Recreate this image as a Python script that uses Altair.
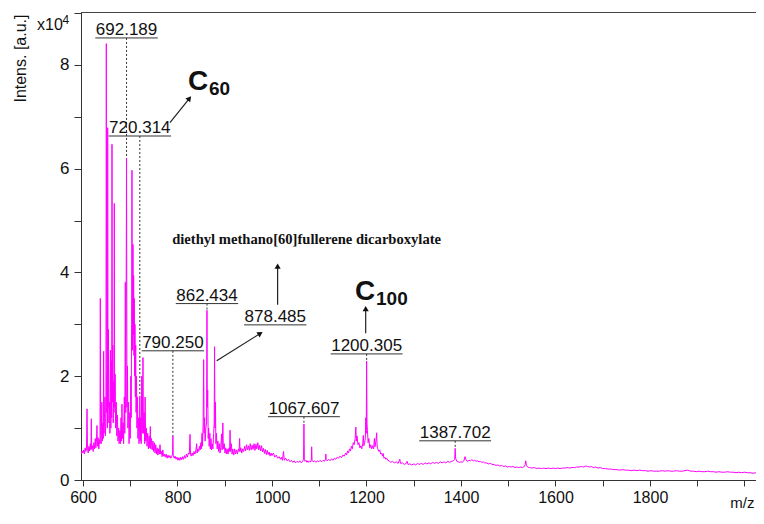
import math
import altair as alt
import pandas as pd

# ---------------- data (m/z, intensity in units of 1e4) ----------------
SPECTRUM = [
    (596, 0.50), (598, 0.56), (600, 0.52), (601.5, 0.58), (603, 0.50), (604.5, 0.62), (606, 0.55),
    (607.5, 0.60), (608.5, 1.37), (609.5, 0.62), (611, 0.52), (612.5, 0.65), (614, 0.56), (615.5, 0.70),
    (616.8, 0.58), (617.6, 1.18), (618.4, 0.60), (620, 0.66), (621.5, 0.55), (623, 0.72), (624.5, 0.60),
    (626, 0.80), (627.2, 0.62), (628.5, 0.75), (629.6, 1.05), (630.5, 0.65), (632, 0.82), (633.5, 0.60),
    (635, 0.78), (636, 0.70), (636.7, 3.50), (637.5, 0.85), (638.5, 0.70), (639.8, 1.50), (640.8, 0.75),
    (642, 1.10), (643, 0.80), (643.7, 2.48), (644.5, 0.90), (645.5, 1.20), (646.5, 1.60), (647.3, 0.85),
    (648.5, 1.10), (649.4, 8.41), (650.3, 1.30), (651.2, 2.10), (651.8, 1.00), (652.3, 6.79), (653, 1.40),
    (654, 2.90), (654.8, 1.10), (656, 1.50), (657, 0.90), (658.2, 2.50), (659, 1.00), (660, 2.30),
    (660.7, 1.20), (661.4, 6.47), (662.2, 1.50), (663.2, 2.60), (664, 1.10), (665, 1.90), (665.6, 1.30),
    (666.3, 5.33), (667, 1.40), (668, 2.04), (669, 1.00), (670.5, 1.50), (671.5, 0.85), (673, 1.25),
    (674, 0.75), (675.5, 1.00), (676.5, 0.70), (678, 0.95), (679.2, 0.70), (680.5, 1.20), (681.5, 0.75),
    (682.5, 1.46), (683.5, 0.80), (685, 1.10), (686, 0.70), (687.5, 1.60), (688.5, 0.90), (689.6, 3.81),
    (690.6, 1.30), (692.2, 6.20), (693.1, 1.40), (694.2, 2.20), (695, 1.00), (696.5, 1.50), (697.5, 0.70),
    (699, 1.30), (700, 0.80), (701.2, 2.00), (702, 1.20), (702.9, 3.00), (703.7, 5.97), (704.5, 2.50),
    (705.2, 3.40), (705.8, 4.54), (706.5, 2.80), (707.2, 3.94), (707.9, 2.40), (708.6, 3.50), (709.3, 2.00),
    (710, 3.00), (710.8, 1.60), (711.6, 2.60), (712.4, 1.30), (713.3, 2.00), (714.2, 1.00), (715.3, 1.60),
    (716.3, 0.80), (717.5, 1.20), (718.6, 0.70), (719.6, 1.00), (720.3, 1.62), (721.2, 0.75), (722.3, 1.20),
    (723.2, 0.70), (724.4, 2.00), (725.4, 0.90), (727, 2.36), (728, 0.90), (729.5, 1.30), (730.5, 0.70),
    (731.5, 1.60), (732.5, 0.75), (734, 1.00), (735.5, 0.65), (737, 0.90), (738.5, 0.60), (740, 0.85),
    (741.5, 0.62), (742.5, 1.03), (743.5, 0.60), (745, 0.80), (746.5, 0.58), (748, 0.75), (749.5, 0.55),
    (751, 0.72), (752.5, 0.52), (754, 0.68), (755.5, 0.50), (757, 0.62), (758.5, 0.48),
    (760, 0.60), (761.5, 0.50), (763, 0.68), (764.5, 0.50), (766, 0.55), (767.5, 0.45), (769, 0.58),
    (770.5, 0.46), (772, 0.50), (774, 0.44), (776, 0.50), (778, 0.42), (780, 0.48), (782, 0.43),
    (784, 0.47), (786, 0.42), (788, 0.46), (789.6, 0.50), (790.25, 0.85), (791, 0.48), (793, 0.42),
    (795, 0.46), (797, 0.40), (799, 0.44), (801, 0.38), (803, 0.43), (805, 0.38), (807, 0.44), (809, 0.39),
    (811, 0.45), (813, 0.40), (815, 0.47), (817, 0.42), (819, 0.50), (821, 0.44), (823, 0.52), (825, 0.50),
    (826.5, 0.88), (827.5, 0.50), (829, 0.46), (831, 0.52), (833, 0.47), (835, 0.55), (837, 0.50),
    (839, 0.58), (840.6, 0.70), (841.5, 0.52), (843, 0.60), (845, 0.55), (846.5, 0.65), (848, 0.58),
    (849.5, 0.72), (850.5, 0.60), (852, 0.90), (853, 0.65), (854.3, 1.10), (855.4, 2.32), (856.3, 0.90),
    (857.5, 1.20), (858.5, 0.75), (860, 1.00), (861.5, 1.10), (862.4, 3.27), (863.1, 1.40), (864, 1.73),
    (865, 0.80), (866, 1.00), (867, 0.65), (868.5, 0.90), (869.5, 0.60), (871, 0.80), (872, 0.58),
    (873.5, 0.70), (875, 0.60), (876.5, 0.90), (877.7, 1.10), (878.5, 2.57), (879.3, 1.00), (880.3, 1.50),
    (881.3, 0.70), (882.5, 0.90), (884, 0.60), (885.5, 0.75), (887, 0.55), (888.5, 0.70), (890, 0.52),
    (891.5, 0.62), (893.5, 0.89), (894.5, 0.58), (896, 1.10), (897, 0.60), (899, 0.70), (900.5, 0.52),
    (902, 0.62), (903.5, 0.50), (905, 0.60), (907, 0.50), (909, 0.62), (910.3, 0.55), (911.3, 0.96),
    (912.3, 0.55), (914, 0.70), (915.5, 0.50), (917, 0.60), (919, 0.48), (921, 0.60), (923, 0.50),
    (925, 0.58), (927, 0.50), (929, 0.60), (930.5, 0.55), (931.5, 0.80), (932.5, 0.55), (934, 0.62),
    (936, 0.52), (938, 0.60), (940, 0.55), (942, 0.65), (944, 0.56), (946, 0.68), (948, 0.58), (950, 0.66),
    (952, 0.57), (954, 0.70), (956, 0.58), (958, 0.67), (960, 0.59), (962, 0.70), (964, 0.57), (966, 0.69),
    (968, 0.60), (970, 0.72), (972, 0.58), (974, 0.67), (976, 0.56), (978, 0.66), (980, 0.54), (982, 0.61),
    (984, 0.51), (986, 0.59), (988, 0.49), (990, 0.57), (992, 0.49), (994, 0.54), (996, 0.46), (998, 0.52),
    (1000, 0.47), (1003, 0.52), (1006, 0.44), (1009, 0.48), (1012, 0.42), (1015, 0.45), (1018, 0.40),
    (1020, 0.44), (1022, 0.38), (1024.5, 0.55), (1026, 0.38), (1029, 0.42), (1032, 0.37), (1035, 0.40),
    (1038, 0.35), (1041, 0.38), (1044, 0.34), (1047, 0.37), (1050, 0.33), (1053, 0.36), (1056, 0.34),
    (1059, 0.37), (1062, 0.33), (1065, 0.36), (1066.8, 0.40), (1067.6, 1.08), (1068.5, 0.40), (1070, 0.36),
    (1072, 0.38), (1074, 0.34), (1076, 0.37), (1078, 0.34), (1080, 0.36), (1082, 0.35), (1083.3, 0.40),
    (1084, 0.64), (1084.8, 0.38), (1087, 0.35), (1090, 0.37), (1093, 0.34), (1096, 0.37), (1099, 0.35),
    (1102, 0.38), (1105, 0.35), (1108, 0.38), (1111, 0.36), (1113.3, 0.40), (1114, 0.50), (1114.8, 0.39),
    (1117, 0.37), (1120, 0.40), (1123, 0.37), (1126, 0.41), (1129, 0.38), (1132, 0.42), (1135, 0.40),
    (1138, 0.44), (1141, 0.42), (1144, 0.46), (1147, 0.43), (1150, 0.48), (1153, 0.46), (1156, 0.52),
    (1158, 0.48), (1160, 0.56), (1162, 0.52), (1164, 0.60), (1166, 0.56), (1168, 0.65), (1170, 0.60),
    (1172, 0.72), (1174, 0.68), (1176, 0.80), (1177.5, 1.02), (1178.5, 0.75), (1180, 0.85), (1182, 0.68),
    (1184, 0.72), (1186, 0.62), (1188, 0.66), (1190, 0.60), (1192, 0.70), (1193.3, 0.86), (1194.5, 0.66),
    (1196, 0.72), (1197.5, 0.80), (1198.6, 1.20), (1199.5, 0.90), (1200.3, 2.29), (1201.1, 1.10),
    (1202, 0.95), (1203.5, 0.72), (1205, 0.80), (1207, 0.62), (1209, 0.68), (1211, 0.60), (1213, 0.66),
    (1215, 0.60), (1216.8, 0.80), (1218, 0.64), (1220, 0.75), (1221.5, 0.91), (1222.5, 0.65), (1224, 0.60),
    (1226, 0.55), (1228, 0.58), (1230, 0.50), (1232, 0.52), (1234, 0.46), (1235.5, 0.51), (1237, 0.42),
    (1239, 0.44), (1241, 0.40), (1243, 0.42), (1245, 0.38), (1248, 0.37),
    (1251, 0.34), (1255, 0.36), (1259, 0.33), (1263, 0.35), (1267, 0.32), (1270.5, 0.40), (1272, 0.32),
    (1276, 0.33), (1280, 0.30), (1284, 0.32), (1286, 0.36), (1288, 0.30), (1292, 0.31), (1296, 0.29),
    (1300, 0.31), (1304, 0.29), (1308, 0.32), (1312, 0.30), (1316, 0.32), (1320, 0.30), (1324, 0.33),
    (1328, 0.31), (1332, 0.33), (1336, 0.31), (1340, 0.34), (1344, 0.32), (1348, 0.34), (1352, 0.32),
    (1356, 0.35), (1360, 0.33), (1364, 0.35), (1368, 0.33), (1372, 0.36), (1376, 0.34), (1380, 0.36),
    (1384, 0.37), (1386.7, 0.40), (1387.7, 0.61), (1388.7, 0.42), (1391, 0.36), (1394, 0.35), (1397, 0.34),
    (1400, 0.35), (1403, 0.34), (1406, 0.37), (1408.5, 0.45), (1411, 0.38), (1414, 0.36), (1417, 0.38),
    (1420, 0.37), (1423, 0.39), (1426, 0.37), (1429, 0.38), (1432, 0.36), (1435, 0.37), (1438, 0.35),
    (1441, 0.36), (1444, 0.34), (1447, 0.35), (1450, 0.33), (1454, 0.33), (1458, 0.31), (1462, 0.32),
    (1466, 0.30), (1470, 0.30), (1474, 0.28), (1478, 0.29), (1482, 0.27), (1486, 0.28), (1490, 0.26),
    (1494, 0.27), (1498, 0.25), (1502, 0.26), (1506, 0.25), (1510, 0.26), (1514, 0.24), (1518, 0.25),
    (1522, 0.24), (1526, 0.25), (1530, 0.24), (1534, 0.26), (1536, 0.30), (1537, 0.37), (1538.5, 0.28),
    (1541, 0.25), (1545, 0.24), (1550, 0.23), (1555, 0.24), (1560, 0.22), (1565, 0.23), (1570, 0.22),
    (1575, 0.23), (1580, 0.22), (1585, 0.23), (1590, 0.22), (1595, 0.23), (1600, 0.22), (1605, 0.23),
    (1610, 0.22), (1615, 0.23), (1620, 0.23), (1625, 0.24), (1630, 0.23), (1635, 0.24), (1640, 0.24),
    (1645, 0.25), (1650, 0.25), (1655, 0.26), (1660, 0.25), (1664, 0.27), (1668, 0.26), (1672, 0.25),
    (1676, 0.26), (1680, 0.24), (1685, 0.25), (1690, 0.23), (1695, 0.24), (1700, 0.22), (1706, 0.22),
    (1712, 0.21), (1718, 0.21), (1724, 0.20), (1730, 0.20), (1736, 0.19), (1742, 0.20), (1748, 0.19),
    (1754, 0.19), (1760, 0.18), (1766, 0.19), (1772, 0.18), (1778, 0.19), (1784, 0.18), (1790, 0.18),
    (1796, 0.17), (1802, 0.18), (1808, 0.17), (1814, 0.17), (1820, 0.17), (1826, 0.18), (1832, 0.17),
    (1838, 0.18), (1844, 0.17), (1850, 0.17), (1856, 0.18), (1862, 0.17), (1868, 0.17), (1874, 0.18),
    (1880, 0.19), (1886, 0.17), (1892, 0.17), (1898, 0.16), (1904, 0.17), (1910, 0.16), (1916, 0.16),
    (1922, 0.17), (1928, 0.16), (1934, 0.16), (1940, 0.15), (1946, 0.16), (1952, 0.15), (1958, 0.15),
    (1964, 0.16), (1970, 0.15), (1976, 0.15), (1982, 0.14), (1988, 0.15), (1994, 0.14), (2000, 0.15),
    (2006, 0.14), (2012, 0.14), (2018, 0.13), (2024, 0.14), (2030, 0.13), (2036, 0.13), (2039, 0.13),
]

PEAK_LABELS = ["692.189", "720.314", "790.250", "862.434", "878.485", "1067.607", "1200.305", "1387.702"]
PEAK_MZ     = [692.189, 720.314, 790.250, 862.434, 878.485, 1067.607, 1200.305, 1387.702]
LABEL_MZ    = [692.189, 720.314, 790.250, 862.434, 1007.0, 1067.607, 1200.305, 1387.702]
LABEL_INT   = [8.52, 6.63, 2.49, 3.40, 2.99, 1.22, 2.43, 0.755]
PEAK_TOP    = [6.20, 1.62, 0.85, 3.27, None, 1.08, 2.29, 0.61]

# arrows: start (m/z, int) -> end (m/z, int)
ARROW_X1 = [784.1, 883.0, 1011.9, 1198.3]
ARROW_Y1 = [6.89, 2.30, 3.38, 2.83]
ARROW_X2 = [830.0, 981.6, 1011.9, 1198.3]
ARROW_Y2 = [7.41, 2.86, 4.19, 3.37]

SPECIES = ["C", "C"]
SPECIES_SUB = ["60", "100"]
SPECIES_X = [822.2, 1175.7]
SPECIES_Y = [7.52, 3.46]

COMPOUND = "diethyl methano[60]fullerene dicarboxylate"
COMPOUND_X = 1073.3
COMPOUND_Y = 4.62

X_TICKS = list(range(600, 2001, 100))
Y_TICKS = list(range(0, 10))

# ---------------- layout ----------------
W, H = 675, 468
X_DOMAIN = [595.8, 595.8 + 675 / 0.4725]
Y_DOMAIN = [0, 9.02]
PX_X = W / (X_DOMAIN[1] - X_DOMAIN[0])
PX_Y = H / (Y_DOMAIN[1] - Y_DOMAIN[0])
FONT = "Liberation Sans"
INK = "#111111"
LABEL_SIZE = 17

XS = alt.Scale(domain=X_DOMAIN, nice=False, zero=False)
YS = alt.Scale(domain=Y_DOMAIN, nice=False, zero=False)

X_AXIS = alt.Axis(
    values=X_TICKS, format="d",
    labelExpr="(datum.value % 200 == 0 && datum.value <= 1800) ? datum.label : ''",
    tickSize=6, labelPadding=3, labelFontSize=16, labelFont=FONT, labelColor=INK,
    tickColor="#333333", domainColor="#333333", grid=False, labelFlush=False, labelOverlap=False,
    title="m/z", titleX=W - 2, titleY=15, titleAlign="right", titleBaseline="top",
    titleFontSize=15, titleFontWeight="normal", titleFont=FONT, titleColor=INK,
)
Y_AXIS = alt.Axis(
    values=Y_TICKS, format="d",
    labelExpr="(datum.value % 2 == 0 && datum.value <= 8) ? datum.label : ''",
    tickSize=7, labelPadding=5, labelFontSize=17, labelFont=FONT, labelColor=INK,
    tickColor="#333333", domainColor="#333333", grid=False, labelOverlap=False, labelFlush=False,
    title="Intens. [a.u.]", titleX=-61, titleY=2, titleAngle=270, titleAlign="right",
    titleBaseline="middle", titleFontSize=16, titleFontWeight="normal", titleFont=FONT, titleColor=INK,
)


def X(field):
    return alt.X(field, type="quantitative", scale=XS, axis=X_AXIS)


def Y(field):
    return alt.Y(field, type="quantitative", scale=YS, axis=Y_AXIS)


spec_df = pd.DataFrame(SPECTRUM, columns=["mz", "intensity"])


def half_width_mz(label):
    n_digits = sum(c.isdigit() for c in label)
    px = 0.5 * (n_digits * 0.556 + 0.278) * LABEL_SIZE + 0.5
    return px / PX_X


lab_df = pd.DataFrame({
    "label": PEAK_LABELS, "peak": PEAK_MZ, "lx": LABEL_MZ, "ly": LABEL_INT, "top": PEAK_TOP,
})
lab_df["u1"] = [x - half_width_mz(l) for x, l in zip(LABEL_MZ, PEAK_LABELS)]
lab_df["u2"] = [x + half_width_mz(l) for x, l in zip(LABEL_MZ, PEAK_LABELS)]
dash_df = lab_df.dropna(subset=["top"])

arr_df = pd.DataFrame({"x1": ARROW_X1, "y1": ARROW_Y1, "x2": ARROW_X2, "y2": ARROW_Y2})
angs, hx, hy = [], [], []
for x1, y1, x2, y2 in zip(ARROW_X1, ARROW_Y1, ARROW_X2, ARROW_Y2):
    dxp = (x2 - x1) * PX_X
    dyp = (y2 - y1) * PX_Y
    L = math.hypot(dxp, dyp)
    angs.append(math.degrees(math.atan2(dxp, dyp)) % 360)
    hx.append(x2 - 3.5 * dxp / L / PX_X)
    hy.append(y2 - 3.5 * dyp / L / PX_Y)
arr_df["ang"] = angs
arr_df["hx"] = hx
arr_df["hy"] = hy

sp_df = pd.DataFrame({"main": SPECIES, "sub": SPECIES_SUB, "sx": SPECIES_X, "sy": SPECIES_Y})
comp_df = pd.DataFrame({"text": [COMPOUND], "cx": [COMPOUND_X], "cy": [COMPOUND_Y]})
mult_df = pd.DataFrame({"m": ["x10"], "e": ["4"]})

spectrum = alt.Chart(spec_df).mark_line(color="#FF00FF", strokeWidth=1, clip=True).encode(
    x=X("mz"), y=Y("intensity"))

dashes = alt.Chart(dash_df).mark_rule(color="#333333", strokeWidth=1, strokeDash=[2, 2]).encode(
    x=X("peak"), y=Y("ly"), y2="top")

underlines = alt.Chart(lab_df).mark_rule(color="#333333", strokeWidth=1).encode(
    x=X("u1"), x2="u2", y=Y("ly"))

labels = alt.Chart(lab_df).mark_text(
    font=FONT, fontSize=LABEL_SIZE, align="center", baseline="alphabetic", dy=-3, color=INK
).encode(x=X("lx"), y=Y("ly"), text="label")

arrow_lines = alt.Chart(arr_df).mark_rule(color="#222222", strokeWidth=1.2).encode(
    x=X("x1"), y=Y("y1"), x2="hx", y2="hy")

arrow_heads = alt.Chart(arr_df).mark_point(
    shape="triangle-up", filled=True, size=38, color="#111111", opacity=1
).encode(x=X("hx"), y=Y("hy"), angle=alt.Angle("ang:Q", scale=None))

species_main = alt.Chart(sp_df).mark_text(
    font=FONT, fontSize=28, fontWeight="bold", align="left", baseline="alphabetic", color=INK
).encode(x=X("sx"), y=Y("sy"), text="main")

species_sub = alt.Chart(sp_df).mark_text(
    font=FONT, fontSize=19, fontWeight="bold", align="left", baseline="alphabetic", color=INK,
    dx=21, dy=5
).encode(x=X("sx"), y=Y("sy"), text="sub")

compound = alt.Chart(comp_df).mark_text(
    font="Liberation Serif", fontSize=14.6, fontWeight="bold", align="center", baseline="middle", color=INK
).encode(x=X("cx"), y=Y("cy"), text="text")

mult = alt.Chart(mult_df).mark_text(
    font=FONT, fontSize=16, align="left", baseline="alphabetic", color=INK
).encode(x=alt.value(-44), y=alt.value(18), text="m")

mult_exp = alt.Chart(mult_df).mark_text(
    font=FONT, fontSize=12, align="left", baseline="alphabetic", color=INK
).encode(x=alt.value(-18.5), y=alt.value(12), text="e")

chart = alt.layer(
    spectrum, dashes, underlines, labels, arrow_lines, arrow_heads,
    species_main, species_sub, compound, mult, mult_exp,
).properties(
    width=W, height=H,
    autosize=alt.AutoSizeParams(type="none"),
    padding={"left": 73, "top": 4, "right": 0, "bottom": 31},
).configure_view(stroke="#444444", strokeWidth=1)

chart.save("out.html", embed_options={"renderer": "svg", "actions": False})
